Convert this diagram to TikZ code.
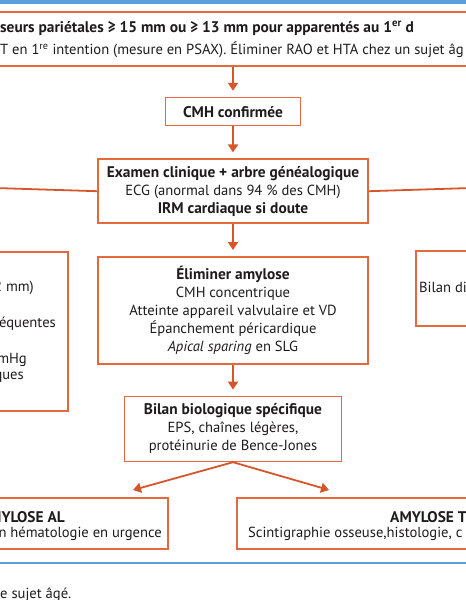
\documentclass[tikz,border=0pt]{standalone}
\usepackage{fontspec}
\setmainfont{PT Sans}
\usetikzlibrary{arrows.meta}
\usetikzlibrary{positioning}

\definecolor{frame}{HTML}{E3693F}
\definecolor{link}{HTML}{D5562B}
\definecolor{rule}{HTML}{5C9DDB}
\definecolor{ink}{HTML}{1E1B1C}

% bold heading lines run a little wider
\newcommand{\hd}[1]{{\fontsize{15.4}{18}\selectfont\bfseries #1}}

\begin{document}
\begin{tikzpicture}[x=1pt,y=-1pt,
    every node/.style={font=\fontsize{14.6}{18}\selectfont, text=ink, inner sep=0pt},
    box/.style={draw=frame, line width=1.6pt, align=center},
    arr/.style={draw=link, line width=1.8pt, -{Triangle[width=10pt,length=8pt]}, shorten >=6pt}
  ]
  \useasboundingbox (0,0) rectangle (466,600);
  \clip (0,0) rectangle (466,600);

  % rules
  \draw[rule, line width=4pt] (-5,2) -- (471,2);
  \draw[rule, line width=2pt] (-5,563) -- (471,563);

  % top box
  \node[box, minimum width=500pt, minimum height=54pt] (top) at (233,39) {};
  \node[anchor=west] (top1) at (0,28) {\hd{seurs pariétales ≥ 15 mm ou ≥ 13 mm pour apparentés au 1\textsuperscript{er} d}};
  \node[anchor=west] (top2) at (0,50) {T en 1\textsuperscript{re} intention (mesure en PSAX). Éliminer RAO et HTA chez un sujet âg};

  % central column
  \node[box, minimum width=135pt, minimum height=28pt, below=30pt of top] (cmh) {\hd{CMH confirmée}};
  \node[box, minimum width=270pt, minimum height=64pt, below=32pt of cmh] (ex) {%
    \hd{Examen clinique + arbre généalogique}\\
    ECG (anormal dans 94 \% des CMH)\\
    \hd{IRM cardiaque si doute}};
  \node[box, minimum width=270pt, minimum height=107pt, below=32pt of ex] (amy) {%
    \hd{Éliminer amylose}\\
    CMH concentrique\\
    Atteinte appareil valvulaire et VD\\
    Épanchement péricardique\\
    \emph{Apical sparing} en SLG};
  \node[box, minimum width=217pt, minimum height=65pt, below=31pt of amy] (bil) {%
    \hd{Bilan biologique spécifique}\\
    EPS, chaînes légères,\\
    protéinurie de Bence-Jones};

  % side boxes
  \draw[frame, line width=1.6pt] (-10,252) -| (68,411) -- (-10,411);
  \node[anchor=east] (l1) at (34,288) {2 mm)};
  \node[anchor=east] (l2) at (56,324) {équentes};
  \node[anchor=east] (l3) at (27,360) {mHg};
  \node[anchor=east] (l4) at (24,377) {ques};
  \draw[frame, line width=1.6pt] (476,251) -| (416,326) -- (476,326);
  \node[anchor=west] (r1) at (419,287) {Bilan di};

  % bottom boxes
  \draw[frame, line width=1.6pt] (-10,498) -| (168,549) -- (-10,549);
  \node[anchor=east] (al1) at (65,517) {\hd{MYLOSE AL}};
  \node[anchor=east] (al2) at (162,534) {n hématologie en urgence};
  \draw[frame, line width=1.6pt] (476,498) -| (237,549) -- (476,549);
  \node[anchor=west] (tt1) at (390,517) {\hd{AMYLOSE TTR}};
  \node[anchor=west] (tt2) at (248,534) {Scintigraphie osseuse,histologie, c};

  % footer
  \node[anchor=west] (foot) at (0,595) {e sujet âgé.};

  % connectors
  \coordinate (lhook) at (-5,188);
  \coordinate (rhook) at (471,188);
  \coordinate (al_in) at (133,490);
  \coordinate (tt_in) at (329,490);
  \draw[arr] (top) -- (cmh);
  \draw[arr] (cmh) -- (ex);
  \draw[arr] (ex) -- (amy);
  \draw[arr] (amy) -- (bil);
  \draw[draw=link, line width=1.8pt] (ex.west) -- (lhook);
  \draw[draw=link, line width=1.8pt] (ex.east) -- (rhook);
  \draw[arr, shorten >=0pt] (bil.south) -- (al_in);
  \draw[arr, shorten >=0pt] (bil.south) -- (tt_in);
\end{tikzpicture}
\end{document}
